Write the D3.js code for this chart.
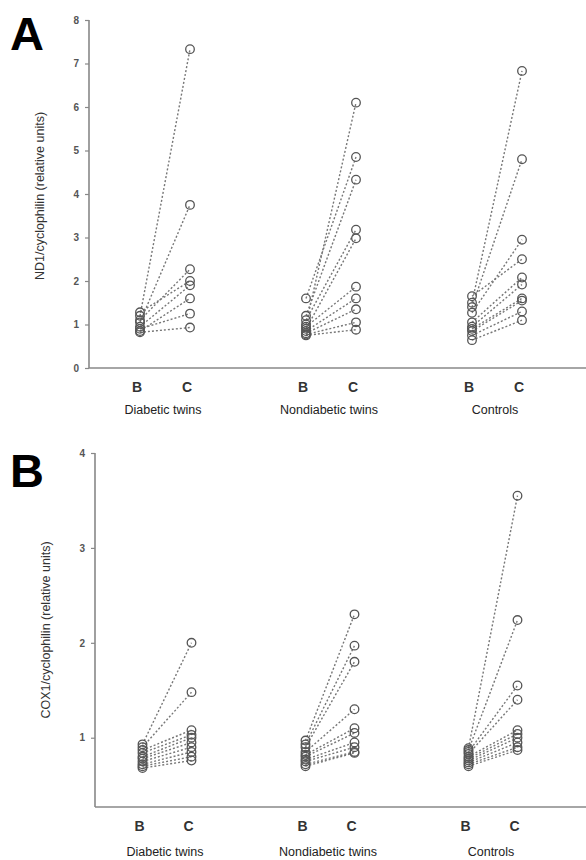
<!DOCTYPE html>
<html>
<head>
<meta charset="utf-8">
<script src="https://cdn.jsdelivr.net/npm/d3@7"></script>
<style>
  body { margin: 0; background: #fff; }
  svg { font-family: "Liberation Sans", Arial, sans-serif; }
</style>
</head>
<body>
<script>
// data: paired values, B = basal, C = clamp
let groups = ["Diabetic twins", "Nondiabetic twins", "Controls"]
let conds = ["B", "C"]

// panel A: ND1/cyclophilin
let ndDiabB = [1.2, 1.05, 1.1, 1.28, 0.95, 0.85, 0.9, 0.82]
let ndDiabC = [7.33, 3.75, 2.27, 2.0, 1.9, 1.6, 1.25, 0.93]
let ndNondB = [1.0, 1.6, 1.2, 1.1, 0.9, 0.95, 0.85, 0.8, 0.77, 0.75]
let ndNondC = [6.1, 4.85, 4.33, 3.18, 2.98, 1.87, 1.6, 1.35, 1.05, 0.88]
let ndCtrlB = [1.5, 1.4, 1.27, 1.65, 1.05, 0.95, 0.9, 0.85, 0.75, 0.64]
let ndCtrlC = [6.83, 4.8, 2.95, 2.5, 2.08, 1.92, 1.6, 1.55, 1.3, 1.1]

// panel B: COX1/cyclophilin
let coxDiabB = [0.93, 0.9, 0.87, 0.84, 0.8, 0.78, 0.75, 0.72, 0.7, 0.68]
let coxDiabC = [2.0, 1.48, 1.08, 1.03, 1.0, 0.95, 0.9, 0.85, 0.8, 0.76]
let coxNondB = [0.97, 0.93, 0.9, 0.85, 0.82, 0.8, 0.77, 0.75, 0.72, 0.7]
let coxNondC = [2.3, 1.97, 1.8, 1.3, 1.1, 1.05, 0.95, 0.9, 0.85, 0.84]
let coxCtrlB = [0.89, 0.87, 0.85, 0.83, 0.8, 0.78, 0.76, 0.74, 0.72, 0.7]
let coxCtrlC = [3.55, 2.24, 1.55, 1.4, 1.08, 1.04, 1.0, 0.95, 0.9, 0.87]

let ndTicks = [0, 1, 2, 3, 4, 5, 6, 7, 8]
let coxTicks = [1, 2, 3, 4]

let svg = d3.select("body").append("svg")
    .attr("width", 586)
    .attr("height", 860)

let pairs = (b, c) => b.map((v, i) => [v, c[i]])

let drawPanel = (cfg) => {
    let g = svg.append("g")
    let y = d3.scaleLinear().domain(cfg.domain).range([cfg.bottom, cfg.top])
    let xg = d3.scalePoint().domain(groups).range(cfg.groupRange)
    let xi = d3.scalePoint().domain(conds).range([-cfg.gap / 2, cfg.gap / 2])
    let x = (grp, c) => xg(grp) + xi(c)

    // y axis
    let ax = g.append("g")
        .attr("transform", "translate(" + cfg.left + ",0)")
        .call(d3.axisLeft(y).tickValues(cfg.ticks).tickSize(4).tickPadding(6).tickFormat(d3.format("d")))
    ax.select(".domain").attr("stroke", "#888").attr("stroke-width", 1.6)
        .attr("d", "M" + 0 + "," + y(cfg.domain[1]) + "V" + cfg.bottom)
    ax.selectAll(".tick line").attr("stroke", "#888").attr("stroke-width", 1.2)
    ax.selectAll(".tick text").attr("fill", "#555").attr("font-size", 10).attr("font-weight", "bold")

    // x axis line
    g.append("line")
        .attr("x1", cfg.left).attr("x2", 586)
        .attr("y1", cfg.bottom).attr("y2", cfg.bottom)
        .attr("stroke", "#888").attr("stroke-width", 1.6)

    // B / C labels and group names
    groups.forEach(grp => {
        conds.forEach(c => {
            g.append("text")
                .attr("x", x(grp, c) - 3)
                .attr("y", cfg.bottom + 24)
                .attr("text-anchor", "middle")
                .attr("font-size", 14)
                .attr("font-weight", "bold")
                .attr("fill", "#333")
                .text(c)
        })
        g.append("text")
            .attr("x", xg(grp) - 2)
            .attr("y", cfg.bottom + cfg.groupDy)
            .attr("text-anchor", "middle")
            .attr("font-size", 12.5)
            .attr("fill", "#222")
            .text(grp)
    })

    // dotted lines and circles
    cfg.series.forEach((s, gi) => {
        let grp = groups[gi]
        let data = pairs(s[0], s[1])
        g.selectAll(null)
            .data(data)
            .enter()
            .append("line")
            .attr("x1", x(grp, "B")).attr("x2", x(grp, "C"))
            .attr("y1", d => y(d[0])).attr("y2", d => y(d[1]))
            .attr("stroke", "#777")
            .attr("stroke-width", 1.4)
            .attr("stroke-dasharray", "2,2")
        conds.forEach((c, ci) => {
            g.selectAll(null)
                .data(data)
                .enter()
                .append("circle")
                .attr("cx", x(grp, c))
                .attr("cy", d => y(d[ci]))
                .attr("r", 4.3)
                .attr("fill", "none")
                .attr("stroke", "#555")
                .attr("stroke-width", 1.3)
        })
    })

    // y label
    g.append("text")
        .attr("transform", "translate(" + cfg.labelX + "," + cfg.labelY + ") rotate(-90)")
        .attr("text-anchor", "middle")
        .attr("font-size", 12.5)
        .attr("fill", "#333")
        .text(cfg.label)

    // panel letter
    g.append("text")
        .attr("x", 10)
        .attr("y", cfg.letterY)
        .attr("font-size", 47)
        .attr("font-weight", "bold")
        .attr("fill", "#000")
        .text(cfg.letter)
}

drawPanel({
    letter: "A", letterY: 50,
    domain: [0, 8], top: 20, bottom: 368, left: 89,
    ticks: ndTicks,
    groupRange: [165, 497], gap: 50, groupDy: 46,
    label: "ND1/cyclophilin (relative units)", labelX: 44, labelY: 196,
    series: [[ndDiabB, ndDiabC], [ndNondB, ndNondC], [ndCtrlB, ndCtrlC]]
})

drawPanel({
    letter: "B", letterY: 487,
    domain: [0.27, 4], top: 453, bottom: 807, left: 95,
    ticks: coxTicks,
    groupRange: [167, 493], gap: 49, groupDy: 49,
    label: "COX1/cyclophilin (relative units)", labelX: 50, labelY: 630,
    series: [[coxDiabB, coxDiabC], [coxNondB, coxNondC], [coxCtrlB, coxCtrlC]]
})
</script>
</body>
</html>
